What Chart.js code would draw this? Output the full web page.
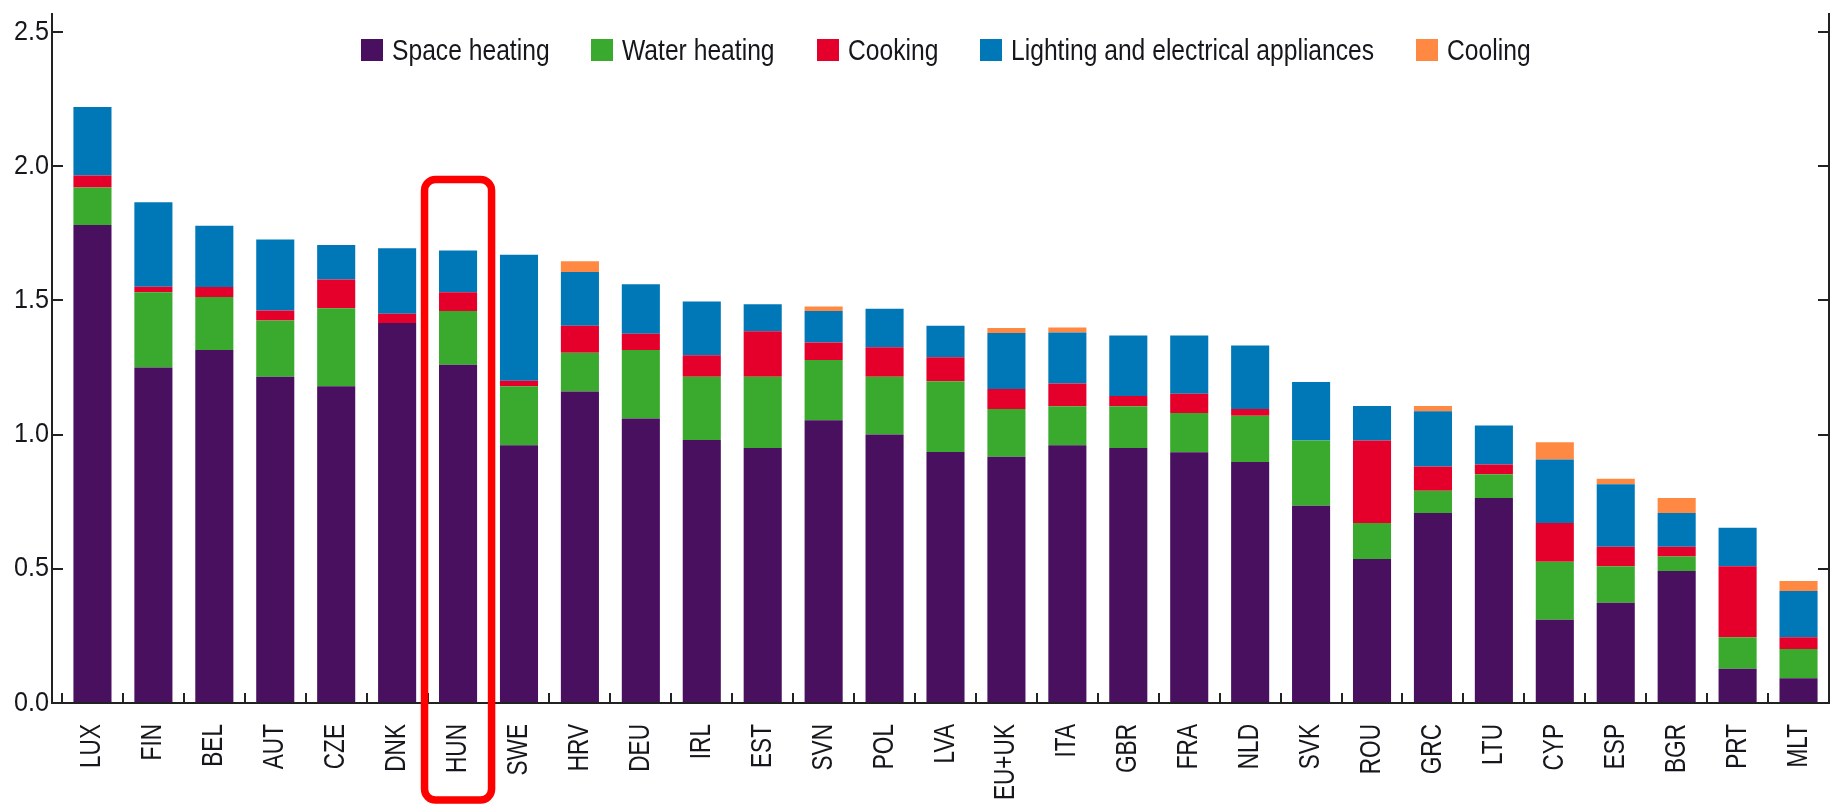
<!DOCTYPE html>
<html>
<head>
<meta charset="utf-8">
<script src="https://cdn.jsdelivr.net/npm/chart.js@4/dist/chart.umd.min.js"></script>
<style>
  html, body { margin: 0; padding: 0; background: #ffffff; }
  #wrap { position: relative; width: 1831px; height: 805px; overflow: hidden; }
  #c { position: absolute; left: 0; top: 0; }
  #legend {
    position: absolute; top: 38px; left: 62px; width: 1767px; height: 24px;
    display: flex; justify-content: center; align-items: center;
    font-family: "Liberation Sans", Arial, sans-serif;
    font-size: 29px; line-height: 24px; color: #16161c; white-space: nowrap;
  }
  .item { display: flex; align-items: center; margin: 0 21px; }
  .sw { width: 22px; height: 22px; margin-right: 9px; flex: none; }
  .holder { display: inline-block; overflow: visible; }
  .txt { display: inline-block; transform-origin: 0 50%; }
</style>
</head>
<body>
<div id="wrap">
  <canvas id="c" width="1831" height="805"></canvas>
  <div id="legend"></div>
</div>
<script>
// ---- Data ----
const categories = ["LUX","FIN","BEL","AUT","CZE","DNK","HUN","SWE","HRV","DEU","IRL","EST","SVN","POL","LVA",
                    "EU+UK","ITA","GBR","FRA","NLD","SVK","ROU","GRC","LTU","CYP","ESP","BGR","PRT","MLT"];

const spaceHeating = [1.78,1.25,1.315,1.215,1.18,1.415,1.26,0.96,1.16,1.06,0.98,0.95,1.053,1.0,0.935,
                      0.917,0.96,0.95,0.934,0.898,0.735,0.536,0.708,0.764,0.31,0.373,0.492,0.128,0.092];
const waterHeating = [0.14,0.28,0.197,0.21,0.29,0.0,0.20,0.22,0.145,0.255,0.235,0.265,0.225,0.215,0.263,
                      0.178,0.145,0.155,0.146,0.172,0.243,0.134,0.083,0.088,0.216,0.136,0.054,0.117,0.109];
const cooking      = [0.045,0.02,0.037,0.037,0.107,0.035,0.07,0.02,0.10,0.06,0.08,0.17,0.065,0.11,0.09,
                      0.075,0.085,0.038,0.072,0.025,0.0,0.308,0.09,0.036,0.144,0.073,0.036,0.264,0.044];
const lighting     = [0.255,0.315,0.229,0.264,0.129,0.244,0.155,0.47,0.20,0.185,0.20,0.10,0.117,0.143,0.117,
                      0.208,0.19,0.226,0.217,0.237,0.218,0.128,0.206,0.146,0.237,0.233,0.126,0.144,0.172];
const cooling      = [0,0,0,0,0,0,0,0,0.04,0,0,0,0.017,0,0,
                      0.019,0.019,0,0,0,0,0,0.019,0,0.064,0.02,0.056,0,0.037];

const seriesNames  = ["Space heating","Water heating","Cooking","Lighting and electrical appliances","Cooling"];
const seriesValues = [spaceHeating, waterHeating, cooking, lighting, cooling];
const seriesColors = ["#48105f","#3aaa2e","#e4002b","#0078b8","#ff8843"];

const yTickValues = [0, 0.5, 1.0, 1.5, 2.0, 2.5];
const yMin = 0, yMax = 2.57;
const highlightCategory = "HUN";
const highlightTopValue = 1.95;

// ---- Styles ----
const FONT = '"Liberation Sans", Arial, sans-serif';
const TEXT = '#16161c';
const AXIS = '#222222';
const LEGEND_CONDENSE = 0.85;
const XLABEL_CONDENSE = 0.78;
const YLABEL_CONDENSE = 0.9;
const X_LABEL_GAP = 21;
const Y_LABEL_GAP = 13;

// ---- HTML legend built from the series ----
const legendEl = document.getElementById('legend');
seriesNames.forEach((name, i) => {
  const it = document.createElement('div'); it.className = 'item';
  const sw = document.createElement('span'); sw.className = 'sw'; sw.style.background = seriesColors[i];
  const holder = document.createElement('span'); holder.className = 'holder';
  const tx = document.createElement('span'); tx.className = 'txt'; tx.textContent = name;
  holder.appendChild(tx);
  it.appendChild(sw); it.appendChild(holder); legendEl.appendChild(it);
  holder.style.width = (tx.offsetWidth * LEGEND_CONDENSE) + 'px';
  tx.style.transform = 'scaleX(' + LEGEND_CONDENSE + ')';
});

// ---- Condensed tick labels (narrow typeface look) ----
function condenseLabels(scale, sx, sy, anchorFn) {
  if (scale.__condensed) return;
  scale.__condensed = true;
  scale._computeLabelArea = function () { return undefined; };
  const orig = scale.drawLabels;
  scale.drawLabels = function (area) {
    const ctx = this.ctx;
    const [ax, ay] = anchorFn(this);
    ctx.save();
    ctx.translate(ax, ay); ctx.scale(sx, sy); ctx.translate(-ax, -ay);
    orig.call(this, area);
    ctx.restore();
  };
}

// ---- Axis frame, inward ticks, highlight box ----
const framePlugin = {
  id: 'frame',
  beforeDraw(chart) {
    condenseLabels(chart.scales.x, 1, XLABEL_CONDENSE, s => [0, s.top + X_LABEL_GAP]);
    condenseLabels(chart.scales.y, YLABEL_CONDENSE, 1, s => [s.right - Y_LABEL_GAP, 0]);
  },
  afterDraw(chart) {
    const { ctx, chartArea: a, scales: { x, y } } = chart;
    const step = x.getPixelForValue(1) - x.getPixelForValue(0);
    const leftX = a.left - 10;
    ctx.save();
    ctx.strokeStyle = AXIS; ctx.lineWidth = 2; ctx.lineCap = 'butt';
    ctx.beginPath();
    ctx.moveTo(leftX, a.top); ctx.lineTo(leftX, a.bottom + 1);
    ctx.moveTo(leftX - 1, a.bottom); ctx.lineTo(a.right, a.bottom);
    ctx.moveTo(a.right, a.top); ctx.lineTo(a.right, a.bottom + 1);
    yTickValues.forEach(v => {
      const py = Math.round(y.getPixelForValue(v));
      ctx.moveTo(leftX, py); ctx.lineTo(leftX + 11, py);
      ctx.moveTo(a.right, py); ctx.lineTo(a.right - 11, py);
    });
    for (let i = 0; i < categories.length; i++) {
      const px = Math.round(x.getPixelForValue(i) - step / 2);
      ctx.moveTo(px, a.bottom); ctx.lineTo(px, a.bottom - 10);
    }
    ctx.stroke();

    // highlight rounded rectangle
    const hi = categories.indexOf(highlightCategory);
    if (hi >= 0) {
      const cx = x.getPixelForValue(hi);
      const l = cx - 0.55 * step, r = cx + 0.55 * step;
      const t = y.getPixelForValue(highlightTopValue), b = chart.height - 5;
      const rad = 11;
      ctx.strokeStyle = '#ff0000'; ctx.lineWidth = 7.5; ctx.lineJoin = 'round';
      ctx.beginPath();
      ctx.moveTo(l + rad, t);
      ctx.lineTo(r - rad, t); ctx.arcTo(r, t, r, t + rad, rad);
      ctx.lineTo(r, b - rad); ctx.arcTo(r, b, r - rad, b, rad);
      ctx.lineTo(l + rad, b); ctx.arcTo(l, b, l, b - rad, rad);
      ctx.lineTo(l, t + rad); ctx.arcTo(l, t, l + rad, t, rad);
      ctx.closePath();
      ctx.stroke();
    }
    ctx.restore();
  }
};

new Chart(document.getElementById('c'), {
  type: 'bar',
  data: {
    labels: categories,
    datasets: seriesNames.map((name, i) => ({
      label: name,
      data: seriesValues[i],
      backgroundColor: seriesColors[i],
      borderWidth: 0,
      barPercentage: 0.625,
      categoryPercentage: 1.0
    }))
  },
  options: {
    responsive: false,
    animation: false,
    devicePixelRatio: 1,
    layout: { padding: { top: 13, right: 2, left: 0, bottom: 0 } },
    plugins: { legend: { display: false }, tooltip: { enabled: false } },
    scales: {
      x: {
        stacked: true,
        offset: true,
        grid: { display: false, drawTicks: true, tickLength: X_LABEL_GAP },
        border: { display: false },
        ticks: {
          autoSkip: false, minRotation: 90, maxRotation: 90, padding: 0,
          color: TEXT, font: { family: FONT, size: 29, lineHeight: 0.9 }
        },
        afterFit(s) { s.height = 102; }
      },
      y: {
        stacked: true,
        min: yMin, max: yMax,
        grid: { display: false, drawTicks: true, tickLength: Y_LABEL_GAP },
        border: { display: false },
        afterBuildTicks(s) { s.ticks = yTickValues.map(v => ({ value: v })); },
        afterFit(s) { s.width = 62; },
        ticks: {
          padding: 0, color: TEXT,
          font: { family: FONT, size: 28, lineHeight: 0.8 },
          callback: v => Number(v).toFixed(1)
        }
      }
    }
  },
  plugins: [framePlugin]
});
</script>
</body>
</html>
